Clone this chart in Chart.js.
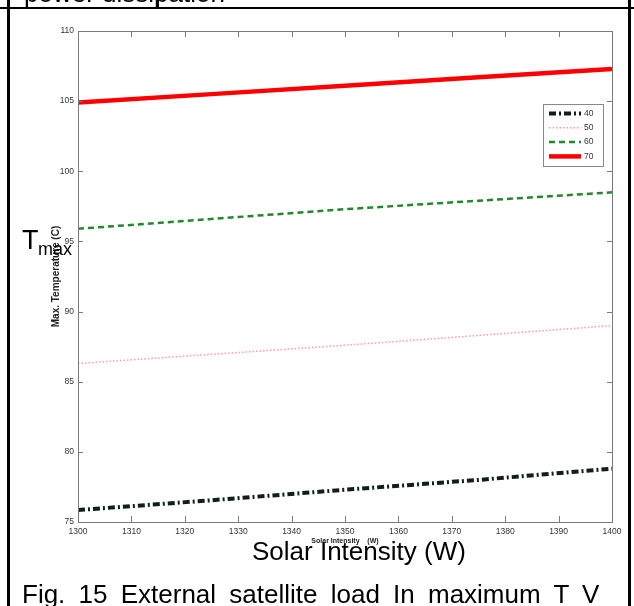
<!DOCTYPE html>
<html>
<head>
<meta charset="utf-8">
<script src="https://cdn.jsdelivr.net/npm/chart.js@4.4.0/dist/chart.umd.min.js"></script>
<style>
  html, body { margin: 0; padding: 0; background: #fff; }
  #page { position: relative; width: 634px; height: 606px; overflow: hidden; font-family: "Liberation Sans", Arial, sans-serif; }
  #chart { position: absolute; left: 0; top: 0; }
  .rule { position: absolute; background: #000; }
  .big { position: absolute; font-size: 26px; line-height: 26px; color: #000; white-space: nowrap; }
</style>
</head>
<body>
<div id="page">
  <canvas id="chart" width="634" height="606"></canvas>
  <div class="big" style="left:24px; top:-20px;">power dissipation</div>
  <div class="rule" style="left:0; top:7px; width:634px; height:2px;"></div>
  <div class="rule" style="left:158px; top:0; width:1px; height:8px;"></div>
  <div class="rule" style="left:7px; top:0; width:3px; height:606px;"></div>
  <div class="rule" style="left:628px; top:0; width:3px; height:606px;"></div>
  <div class="big" style="left:22px; top:227px; font-size:27px; line-height:27px;">T</div>
  <div class="big" style="left:38px; top:240px; font-size:18px; line-height:18px;">max</div>
  <div class="big" style="left:252px; top:538px;">Solar Intensity (W)</div>
  <div class="big" style="left:22px; top:581px; word-spacing:6px;">Fig. 15 External satellite load In maximum T V</div>
</div>
<script>
// readings (temperature in C vs solar intensity in W)
const intensity = [1300, 1325, 1350, 1375, 1400];
const temp40 = [75.85, 76.55, 77.3, 78.0, 78.8];
const temp50 = [86.3, 86.95, 87.6, 88.3, 89.0];
const temp60 = [95.9, 96.6, 97.3, 97.9, 98.5];
const temp70 = [104.9, 105.5, 106.1, 106.7, 107.3];
const seriesNames = ['40', '50', '60', '70'];
const xTicks = [1300, 1310, 1320, 1330, 1340, 1350, 1360, 1370, 1380, 1390, 1400];
const yTicks = [75, 80, 85, 90, 95, 100, 105, 110];

const toPoints = vals => vals.map((v, i) => ({ x: intensity[i], y: v }));

// MATLAB-like box with inward ticks, plus the boxed legend
const matlabBox = {
  id: 'matlabBox',
  afterDatasetsDraw(chart) {
    const { ctx, chartArea: a, scales } = chart;
    const x = scales.x, y = scales.y;
    ctx.save();
    ctx.strokeStyle = '#7a7a7a';
    ctx.lineWidth = 1;
    ctx.setLineDash([]);
    ctx.strokeRect(Math.round(a.left) + 0.5, Math.round(a.top) + 0.5, Math.round(a.width), Math.round(a.height));
    ctx.beginPath();
    x.ticks.forEach(t => {
      const px = Math.round(x.getPixelForValue(t.value)) + 0.5;
      ctx.moveTo(px, a.bottom); ctx.lineTo(px, a.bottom - 6);
      ctx.moveTo(px, a.top); ctx.lineTo(px, a.top + 6);
    });
    y.ticks.forEach(t => {
      const py = Math.round(y.getPixelForValue(t.value)) + 0.5;
      ctx.moveTo(a.left, py); ctx.lineTo(a.left + 5, py);
      ctx.moveTo(a.right, py); ctx.lineTo(a.right - 5, py);
    });
    ctx.stroke();

    // legend
    const bx = a.right - 69, by = a.top + 73, bw = 60, bh = 62;
    ctx.fillStyle = '#fff';
    ctx.fillRect(bx, by, bw, bh);
    ctx.strokeStyle = '#888';
    ctx.strokeRect(bx + 0.5, by + 0.5, bw, bh);
    ctx.font = '8.5px "Liberation Sans Narrow", "Liberation Sans", sans-serif';
    ctx.textBaseline = 'middle';
    ctx.textAlign = 'left';
    chart.data.datasets.forEach((ds, i) => {
      const ly = by + 9.5 + i * 14.3;
      ctx.beginPath();
      ctx.strokeStyle = ds.borderColor;
      ctx.lineWidth = ds.borderWidth;
      ctx.setLineDash(ds.borderDash || []);
      ctx.moveTo(bx + 6, ly);
      ctx.lineTo(bx + 38, ly);
      ctx.stroke();
      ctx.setLineDash([]);
      ctx.fillStyle = '#333';
      ctx.fillText(ds.label, bx + 41, ly);
    });
    ctx.restore();
  }
};

const tickFont = { family: '"Liberation Sans Narrow", "Liberation Sans", sans-serif', size: 8.5 };

new Chart(document.getElementById('chart'), {
  type: 'line',
  data: {
    datasets: [
      { label: seriesNames[0], data: toPoints(temp40), borderColor: '#102018', borderWidth: 4, borderDash: [7, 3, 2, 3] },
      { label: seriesNames[1], data: toPoints(temp50), borderColor: '#ff9a9a', borderWidth: 1.5, borderDash: [1.5, 2] },
      { label: seriesNames[2], data: toPoints(temp60), borderColor: '#22882a', borderWidth: 2.5, borderDash: [6, 4] },
      { label: seriesNames[3], data: toPoints(temp70), borderColor: '#ff0000', borderWidth: 4.5 },
    ],
  },
  options: {
    responsive: false,
    animation: false,
    layout: { padding: { left: 0, top: 31, right: 22, bottom: 0 } },
    elements: { point: { radius: 0 }, line: { tension: 0, fill: false } },
    plugins: { legend: { display: false }, tooltip: { enabled: false } },
    scales: {
      x: {
        type: 'linear',
        min: 1300,
        max: 1400,
        afterBuildTicks: s => { s.ticks = xTicks.map(v => ({ value: v })); },
        afterFit: s => { s.height = 84; },
        grid: { display: false, drawTicks: false },
        border: { display: false },
        ticks: { padding: 5, color: '#333', font: tickFont, maxRotation: 0, autoSkip: false, callback: v => String(v) },
        title: {
          display: true,
          text: 'Solar Intensity    (W)',
          color: '#222',
          font: { family: '"Liberation Sans", sans-serif', size: 7, weight: 'bold' },
          padding: { top: 0, bottom: 61 },
        },
      },
      y: {
        min: 75,
        max: 110,
        afterBuildTicks: s => { s.ticks = yTicks.map(v => ({ value: v })); },
        afterFit: s => { s.width = 78; },
        grid: { display: false, drawTicks: false },
        border: { display: false },
        ticks: { padding: 4, color: '#333', font: tickFont, callback: v => String(v) },
        title: {
          display: true,
          text: 'Max. Temperature (C)',
          color: '#222',
          font: { family: '"Liberation Sans", sans-serif', size: 10, weight: 'bold' },
          padding: { top: 50, bottom: 0 },
        },
      },
    },
  },
  plugins: [matlabBox],
});
</script>
</body>
</html>
